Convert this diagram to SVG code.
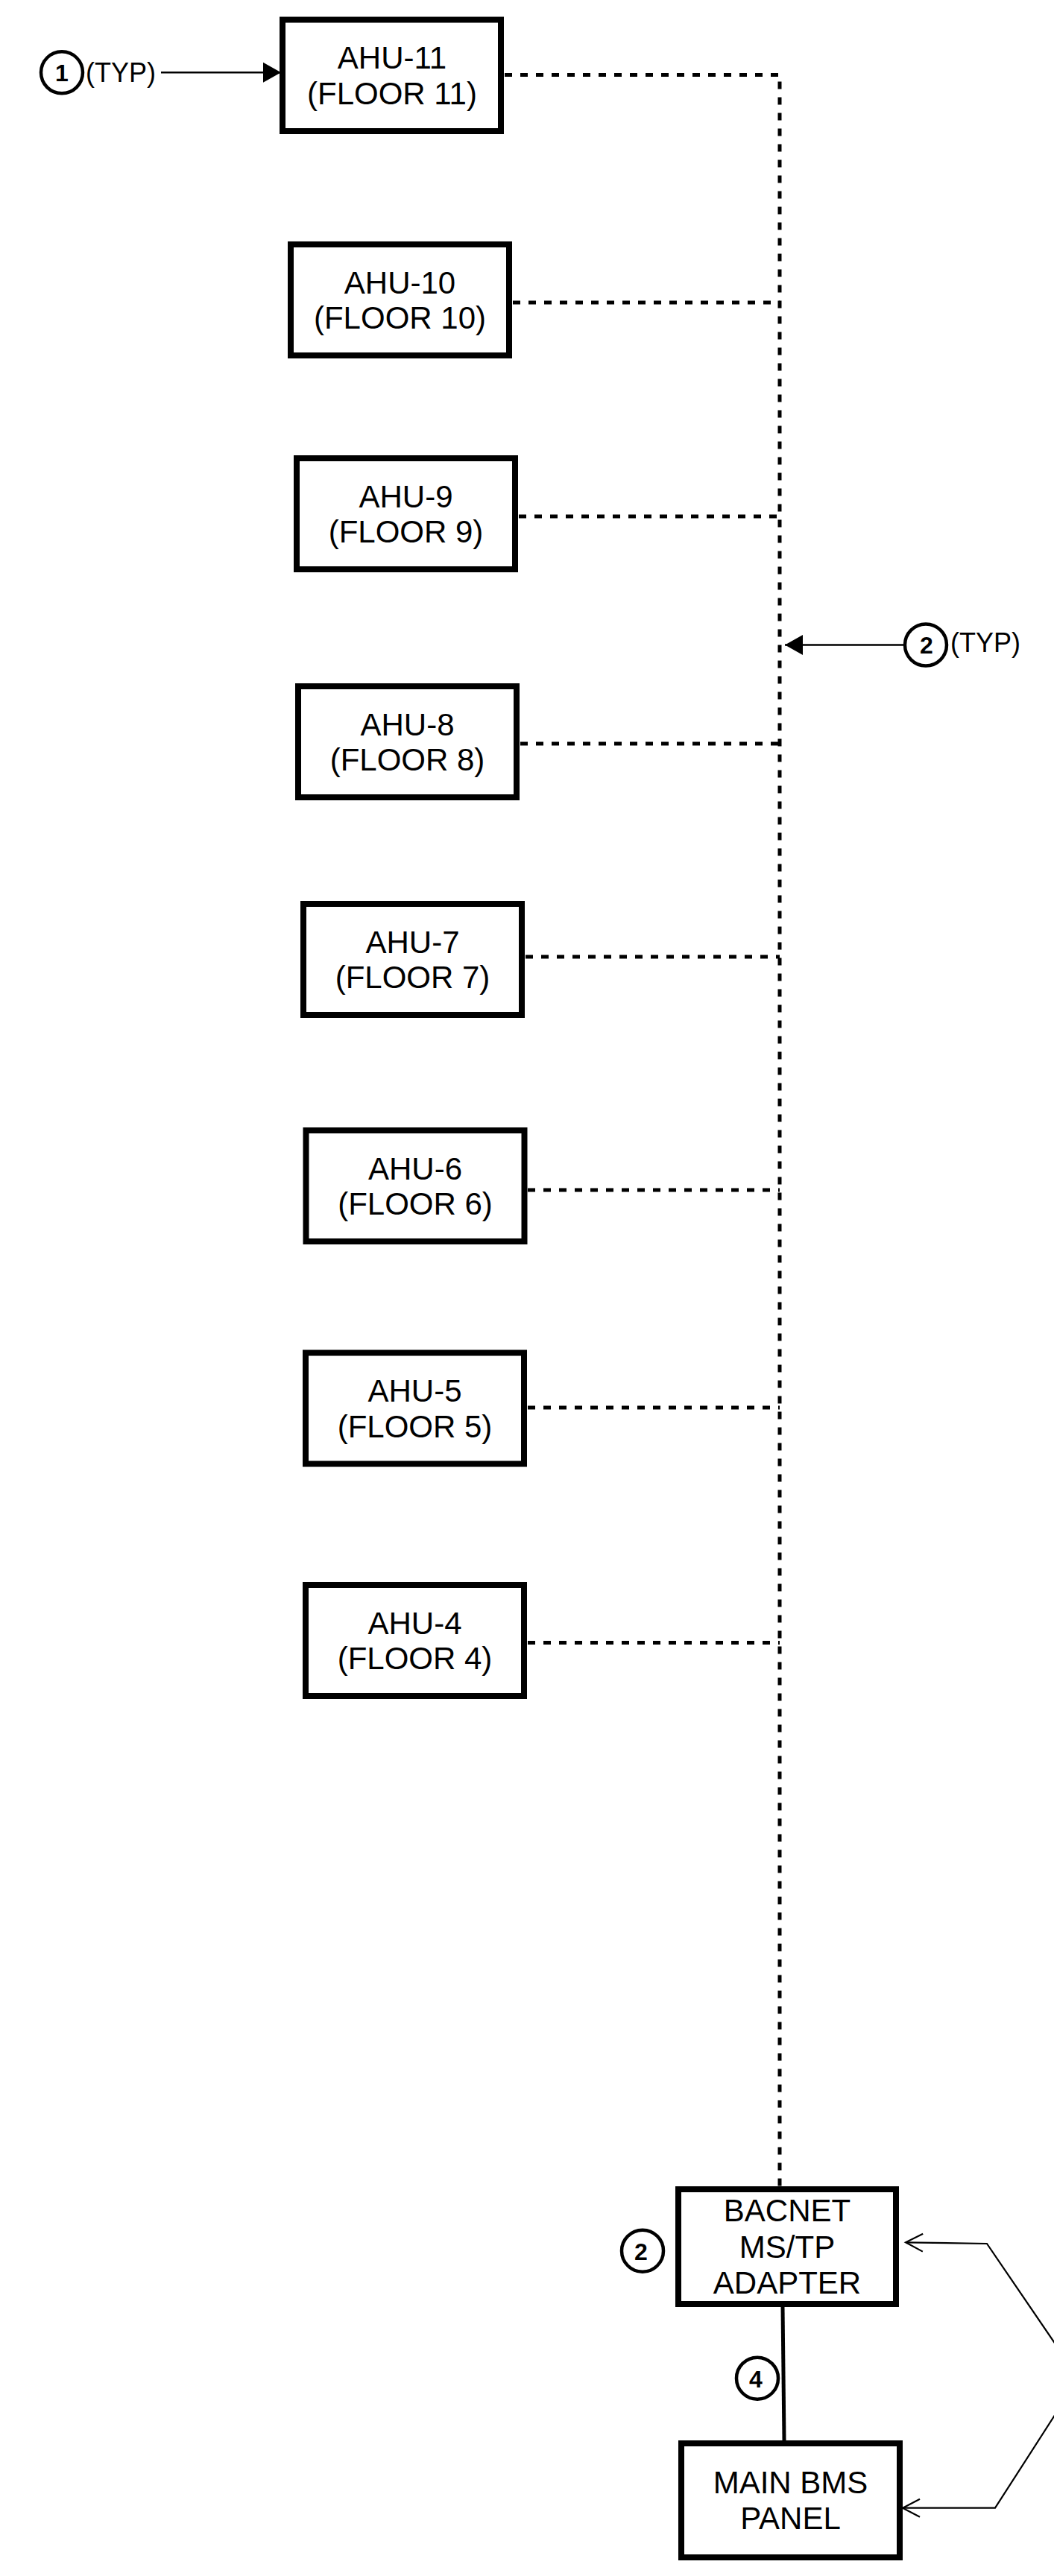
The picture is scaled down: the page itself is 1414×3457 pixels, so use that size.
<svg xmlns="http://www.w3.org/2000/svg" width="1414" height="3457" viewBox="0 0 1414 3457">
<style>
.box{fill:#fff;stroke:#000;stroke-width:8}
.lbl{font-family:"Liberation Sans",Arial,sans-serif;font-size:42px;fill:#000;text-anchor:middle}
.tag{fill:none;stroke:#000;stroke-width:4.5}
.num{font-family:"Liberation Sans",Arial,sans-serif;font-size:32px;font-weight:bold;fill:#000;text-anchor:middle}
.typ{font-family:"Liberation Sans",Arial,sans-serif;font-size:36px;fill:#000}
.bus{fill:none;stroke:#000;stroke-width:5;stroke-dasharray:10 11}
.wire{fill:none;stroke:#000;stroke-width:5}
.lead{fill:none;stroke:#000;stroke-width:2.5}
.thin{fill:none;stroke:#000;stroke-width:2.2}
</style>
<defs>
<marker id="fa" markerUnits="userSpaceOnUse" markerWidth="26" markerHeight="28" refX="24" refY="13.5" orient="auto" overflow="visible">
<path d="M0,0 L24,13.5 L0,27 Z" fill="#000"/>
</marker>
<marker id="oa" markerUnits="userSpaceOnUse" markerWidth="26" markerHeight="26" refX="23" refY="12" orient="auto" overflow="visible">
<path d="M0,0 L23,12 L0,24" fill="none" stroke="#000" stroke-width="2.2"/>
</marker>
</defs>
<rect width="1414" height="3457" fill="#fff"/>

<g id="connectors">
<path class="bus" d="M677,100.5 H1046 V2934"/>
<path class="bus" d="M688,406 H1046"/>
<path class="bus" d="M696,693 H1046"/>
<path class="bus" d="M698,998 H1046"/>
<path class="bus" d="M705,1284 H1046"/>
<path class="bus" d="M708,1597 H1046"/>
<path class="bus" d="M708,1889 H1046"/>
<path class="bus" d="M708,2204.5 H1046"/>
<path class="wire" d="M1050,3095 L1052,3275"/>
<path class="lead" d="M216,97.3 L377,97.3" marker-end="url(#fa)"/>
<path class="lead" d="M1214,865.5 L1053,865.5" marker-end="url(#fa)"/>
<path class="thin" d="M1447,3191.5 L1324,3011 L1215,3009.3" marker-end="url(#oa)"/>
<path class="thin" d="M1447,3191.5 L1335,3365.7 L1211,3365.7" marker-end="url(#oa)"/>
</g>

<g id="ahu-11">
<rect class="box" x="379" y="26.5" width="293" height="149.5"/>
<text class="lbl" x="526" y="92.2">AHU-11</text>
<text class="lbl" x="526" y="139.7">(FLOOR 11)</text>
</g>
<g id="ahu-10">
<rect class="box" x="390" y="328" width="293" height="149"/>
<text class="lbl" x="536.5" y="393.5">AHU-10</text>
<text class="lbl" x="536.5" y="441">(FLOOR 10)</text>
</g>
<g id="ahu-9">
<rect class="box" x="398" y="615" width="293" height="149"/>
<text class="lbl" x="544.5" y="680.5">AHU-9</text>
<text class="lbl" x="544.5" y="728">(FLOOR 9)</text>
</g>
<g id="ahu-8">
<rect class="box" x="400" y="921" width="293" height="149"/>
<text class="lbl" x="546.5" y="986.5">AHU-8</text>
<text class="lbl" x="546.5" y="1034">(FLOOR 8)</text>
</g>
<g id="ahu-7">
<rect class="box" x="407" y="1213" width="293" height="149"/>
<text class="lbl" x="553.5" y="1278.5">AHU-7</text>
<text class="lbl" x="553.5" y="1326">(FLOOR 7)</text>
</g>
<g id="ahu-6">
<rect class="box" x="410.5" y="1517" width="293" height="149"/>
<text class="lbl" x="557" y="1582.5">AHU-6</text>
<text class="lbl" x="557" y="1630">(FLOOR 6)</text>
</g>
<g id="ahu-5">
<rect class="box" x="410" y="1815.5" width="293" height="149"/>
<text class="lbl" x="556.5" y="1881">AHU-5</text>
<text class="lbl" x="556.5" y="1928.5">(FLOOR 5)</text>
</g>
<g id="ahu-4">
<rect class="box" x="410" y="2127" width="293" height="149"/>
<text class="lbl" x="556.5" y="2192.5">AHU-4</text>
<text class="lbl" x="556.5" y="2240">(FLOOR 4)</text>
</g>
<g id="bacnet-adapter">
<rect class="box" x="910" y="2938" width="292" height="154"/>
<text class="lbl" x="1056" y="2980.7">BACNET</text>
<text class="lbl" x="1056" y="3029.5">MS/TP</text>
<text class="lbl" x="1056" y="3078.3">ADAPTER</text>
</g>
<g id="main-bms-panel">
<rect class="box" x="914" y="3279" width="293" height="153"/>
<text class="lbl" x="1060.5" y="3345.6">MAIN BMS</text>
<text class="lbl" x="1060.5" y="3394">PANEL</text>
</g>

<g id="tag-1-typ">
<circle class="tag" cx="83" cy="97.3" r="28"/>
<text class="num" x="83" y="109.3">1</text>
<text class="typ" x="115" y="110">(TYP)</text>
</g>
<g id="tag-2-typ">
<circle class="tag" cx="1242" cy="865.5" r="28"/>
<text class="num" x="1243" y="877">2</text>
<text class="typ" x="1275" y="875">(TYP)</text>
</g>
<g id="tag-2-adapter">
<circle class="tag" cx="862" cy="3020.7" r="28"/>
<text class="num" x="860" y="3033">2</text>
</g>
<g id="tag-4">
<circle class="tag" cx="1016" cy="3191.7" r="28"/>
<text class="num" x="1014" y="3204">4</text>
</g>
</svg>
